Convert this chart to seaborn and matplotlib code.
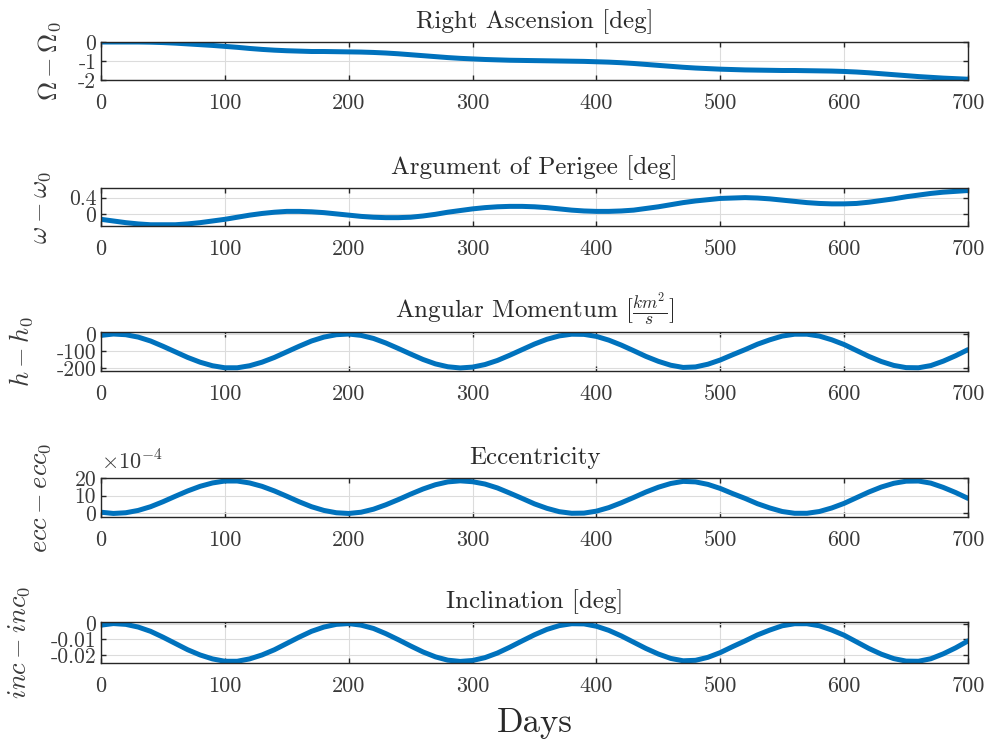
import matplotlib
matplotlib.use("Agg")
import matplotlib.pyplot as plt
import seaborn as sns
import numpy as np

# Data (10-day steps)
days = list(range(0, 701, 10))

raan = [0, 0, 0, 0, -0.01, -0.03, -0.06, -0.1, -0.14, -0.18,
        -0.23, -0.28, -0.34, -0.39, -0.43, -0.46, -0.48, -0.5, -0.5, -0.51,
        -0.52, -0.53, -0.55, -0.58, -0.62, -0.67, -0.72, -0.77, -0.82, -0.86,
        -0.89, -0.92, -0.94, -0.96, -0.97, -0.98, -0.99, -1.0, -1.01, -1.02,
        -1.04, -1.06, -1.09, -1.13, -1.18, -1.23, -1.28, -1.33, -1.37, -1.4,
        -1.43, -1.45, -1.47, -1.48, -1.49, -1.5, -1.5, -1.51, -1.52, -1.53,
        -1.55, -1.58, -1.62, -1.67, -1.72, -1.77, -1.82, -1.86, -1.9, -1.93,
        -1.96]

argp = [-0.12, -0.16, -0.2, -0.23, -0.25, -0.25, -0.25, -0.23, -0.2, -0.16,
        -0.12, -0.07, -0.02, 0.02, 0.05, 0.07, 0.07, 0.06, 0.04, 0.01,
        -0.02, -0.05, -0.07, -0.08, -0.08, -0.07, -0.04, 0.0, 0.05, 0.09,
        0.13, 0.16, 0.18, 0.19, 0.19, 0.18, 0.16, 0.13, 0.1, 0.08,
        0.07, 0.07, 0.08, 0.1, 0.14, 0.18, 0.23, 0.28, 0.32, 0.35,
        0.38, 0.39, 0.4, 0.39, 0.37, 0.34, 0.31, 0.28, 0.26, 0.25,
        0.25, 0.26, 0.29, 0.33, 0.37, 0.42, 0.46, 0.5, 0.53, 0.55,
        0.57]

ang_mom = [-8, 0, -4, -18, -41, -72, -105, -138, -166, -187,
           -199, -199, -187, -166, -138, -105, -72, -41, -18, -4,
           0, -8, -26, -53, -85, -118, -150, -176, -193, -200,
           -195, -180, -156, -125, -92, -59, -31, -11, -1, -2,
           -14, -36, -65, -98, -132, -161, -184, -197, -194, -178,
           -153, -122, -92, -60, -34, -12, -1, -1, -12, -34,
           -62, -97, -132, -162, -185, -198, -199, -186, -160, -128,
           -92]

# eccentricity in units of 1e-4
ecc = [0.7, 0, 0.4, 1.7, 3.8, 6.6, 9.7, 12.7, 15.3, 17.2,
       18.3, 18.3, 17.2, 15.3, 12.7, 9.7, 6.6, 3.8, 1.7, 0.4,
       0, 0.7, 2.4, 4.9, 7.8, 10.9, 13.8, 16.2, 17.8, 18.4,
       17.9, 16.6, 14.4, 11.5, 8.5, 5.4, 2.9, 1.0, 0.1, 0.2,
       1.3, 3.3, 6.0, 9.0, 12.1, 14.8, 16.9, 18.1, 17.8, 16.4,
       14.1, 11.2, 8.5, 5.5, 3.1, 1.1, 0.1, 0.1, 1.1, 3.1,
       5.7, 8.9, 12.1, 14.9, 17.0, 18.2, 18.3, 17.1, 14.7, 11.8,
       8.5]

inc = [-0.001, 0, -0.0005, -0.0022, -0.0049, -0.0086, -0.0126, -0.0166, -0.0199, -0.0224,
       -0.0239, -0.0239, -0.0224, -0.0199, -0.0166, -0.0126, -0.0086, -0.0049, -0.0022, -0.0005,
       0, -0.001, -0.0031, -0.0064, -0.0102, -0.0142, -0.018, -0.0211, -0.0232, -0.024,
       -0.0234, -0.0216, -0.0187, -0.015, -0.011, -0.0071, -0.0037, -0.0013, -0.0001, -0.0002,
       -0.0017, -0.0043, -0.0078, -0.0118, -0.0158, -0.0193, -0.0221, -0.0236, -0.0233, -0.0214,
       -0.0184, -0.0146, -0.011, -0.0072, -0.0041, -0.0014, -0.0001, -0.0001, -0.0014, -0.0041,
       -0.0074, -0.0116, -0.0158, -0.0194, -0.0222, -0.0238, -0.0239, -0.0223, -0.0192, -0.0154,
       -0.011]

x_ticks = [0, 100, 200, 300, 400, 500, 600, 700]

titles = ["Right Ascension [deg]", "Argument of Perigee [deg]",
          r"Angular Momentum $[\frac{km^2}{s}]$", "Eccentricity", "Inclination [deg]"]
ylabels = [r"$\Omega - \Omega_0$", r"$\omega - \omega_0$", r"$h - h_0$",
           r"$ecc - ecc_0$", r"$inc - inc_0$"]
series = [raan, argp, ang_mom, ecc, inc]
y_ticks = [[-2, -1, 0], [0, 0.4], [-200, -100, 0], [0, 10, 20], [-0.02, -0.01, 0]]
y_ticklabels = [["-2", "-1", "0"], ["0", "0.4"], ["-200", "-100", "0"],
                ["0", "10", "20"], ["-0.02", "-0.01", "0"]]
y_lims = [(-2, 0.0), (-0.28, 0.63), (-218, 12), (-2, 20), (-0.025, 0.001)]

# Layout in figure pixels (top, bottom) and label x position
W, H = 993, 751
panel_px = [(42, 80), (188, 226), (332, 371), (478, 517), (622, 663)]
ylabel_x = [-0.044, -0.055, -0.076, -0.055, -0.080]

sns.set_style("ticks")
plt.rcParams["font.family"] = "serif"
plt.rcParams["font.serif"] = ["cmr10", "DejaVu Serif"]
plt.rcParams["mathtext.fontset"] = "cm"
plt.rcParams["axes.unicode_minus"] = False
plt.rcParams["axes.formatter.use_mathtext"] = True

BLUE = "#0072BD"
TXT = "#3a3a3a"

fig = plt.figure(figsize=(W / 100, H / 100), dpi=100)
left = 101 / W
width = (968 - 101) / W

for i, (top, bot) in enumerate(panel_px):
    ax = fig.add_axes([left, 1 - bot / H, width, (bot - top) / H])
    sns.lineplot(x=days, y=series[i], ax=ax, color=BLUE, linewidth=3.6)
    ax.set_xlim(0, 700)
    ax.set_ylim(*y_lims[i])
    ax.set_xticks(x_ticks)
    ax.set_xticklabels([str(t) for t in x_ticks])
    ax.set_yticks(y_ticks[i])
    ax.set_yticklabels(y_ticklabels[i])
    ax.grid(True, color="#dcdcdc", linewidth=0.8)
    ax.set_axisbelow(True)
    for s in ax.spines.values():
        s.set_color("#262626")
        s.set_linewidth(1.0)
    ax.tick_params(axis="both", direction="in", length=3.5, width=1.0,
                   top=True, right=True, colors="#262626",
                   labelcolor=TXT, labelsize=16)
    ax.tick_params(axis="x", pad=10)
    ax.tick_params(axis="y", pad=3.5, labelsize=15.5)
    ax.set_title(titles[i], fontsize=18, pad=10, color="#2a2a2a")
    ax.set_ylabel(ylabels[i], fontsize=19, color=TXT)
    ax.yaxis.set_label_coords(ylabel_x[i], 0.5)
    if i == 3:
        ax.text(0.0, 1.12, r"$\times 10^{-4}$", transform=ax.transAxes,
                fontsize=16, color=TXT, ha="left", va="bottom")
    if i == 4:
        ax.set_xlabel("Days", fontsize=25, labelpad=8, color="#2a2a2a")

fig.savefig("out.png", dpi=100)
